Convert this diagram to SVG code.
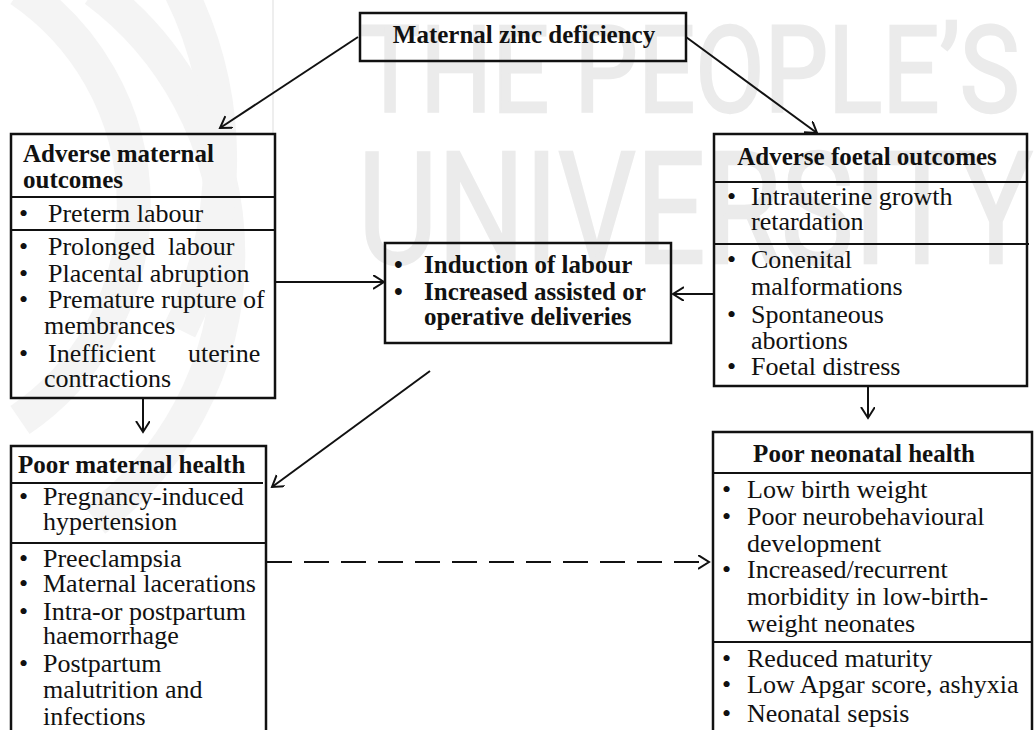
<svg xmlns="http://www.w3.org/2000/svg" width="1034" height="730" viewBox="0 0 1034 730">
<style>
.wm{fill:#ebebeb;stroke:#ebebeb;stroke-width:2.5;font-family:Roboto,'Liberation Sans',sans-serif;font-weight:400}
.arc{fill:none;stroke:#f4f4f4;stroke-width:34}
.box{fill:none;stroke:#111;stroke-width:2.5}
.div{stroke:#111;stroke-width:2}
.t{font-family:'Liberation Serif','Times New Roman',serif;font-size:26px;fill:#111}
.b{font-family:'Liberation Serif','Times New Roman',serif;font-size:25px;font-weight:bold;fill:#111}
.c{text-anchor:middle}
.con{stroke:#111;stroke-width:2;fill:none}
</style>
<defs>
<marker id="ah" markerUnits="userSpaceOnUse" markerWidth="14" markerHeight="16" refX="11" refY="7" orient="auto">
<path d="M0,0 L11,7 L0,14" fill="none" stroke="#111" stroke-width="2"/>
</marker>
</defs>
<rect width="1034" height="730" fill="#fff"/>
<g id="watermark">
<path class="arc" d="M20,-10 A260,260 0 0 1 20,420"/>
<path class="arc" d="M95,-10 A330,330 0 0 1 95,520"/>
<path class="arc" d="M180,-10 A380,380 0 0 1 180,330"/>
<line x1="273" y1="0" x2="273" y2="135" stroke="#e8e8e8" stroke-width="1.5"/>
<text class="wm" transform="translate(360,112) scale(0.84,1)" x="0" y="0" font-size="120">THE PEOPLE’S</text>
<text class="wm" transform="translate(358,263) scale(0.785,1)" x="0" y="0" font-size="156">UNIVERSITY</text>
</g>
<g id="connectors">
<line class="con" x1="358" y1="37" x2="220" y2="128" marker-end="url(#ah)"/>
<line class="con" x1="686" y1="37" x2="817" y2="133" marker-end="url(#ah)"/>
<line class="con" x1="275" y1="282" x2="384" y2="282" marker-end="url(#ah)"/>
<line class="con" x1="714" y1="294" x2="673" y2="294" marker-end="url(#ah)"/>
<line class="con" x1="143" y1="398" x2="143" y2="432" marker-end="url(#ah)"/>
<line class="con" x1="868" y1="386" x2="868" y2="418" marker-end="url(#ah)"/>
<line class="con" x1="430" y1="371" x2="272" y2="487" marker-end="url(#ah)"/>
<line class="con" x1="267" y1="562" x2="709" y2="562" stroke-dasharray="25 12" marker-end="url(#ah)"/>
</g>
<g id="zinc">
<rect class="box" x="360" y="13" width="326" height="48" stroke-width="3"/>
<text class="b c" x="524" y="43">Maternal zinc deficiency</text>
</g>
<g id="maternal-outcomes">
<rect class="box" x="11" y="134" width="264" height="264"/>
<line class="div" x1="11" y1="197" x2="275" y2="197"/>
<line class="div" x1="11" y1="230" x2="275" y2="230"/>
<text class="b" x="23" y="162">Adverse maternal</text>
<text class="b" x="23" y="188">outcomes</text>
<text class="t" x="19" y="222">•</text><text class="t" x="48" y="222">Preterm labour</text>
<text class="t" x="19" y="255">•</text><text class="t" x="48" y="255" xml:space="preserve">Prolonged  labour</text>
<text class="t" x="19" y="282">•</text><text class="t" x="48" y="282">Placental abruption</text>
<text class="t" x="19" y="308">•</text><text class="t" x="48" y="308">Premature rupture of</text>
<text class="t" x="44" y="334">membrances</text>
<text class="t" x="19" y="362">•</text><text class="t" x="48" y="362">Inefficient<tspan x="188">uterine</tspan></text>
<text class="t" x="44" y="387">contractions</text>
</g>
<g id="labour">
<rect class="box" x="385" y="243" width="286" height="100"/>
<text class="b" x="394" y="273">•</text><text class="b" x="424" y="273">Induction of labour</text>
<text class="b" x="394" y="300">•</text><text class="b" x="424" y="300">Increased assisted or</text>
<text class="b" x="424" y="325">operative deliveries</text>
</g>
<g id="foetal-outcomes">
<rect class="box" x="714" y="134" width="313" height="252"/>
<line class="div" x1="714" y1="182" x2="1027" y2="182"/>
<line class="div" x1="714" y1="244" x2="1029" y2="244"/>
<text class="b c" x="867" y="165">Adverse foetal outcomes</text>
<text class="t" x="727" y="205">•</text><text class="t" x="751" y="205">Intrauterine growth</text>
<text class="t" x="751" y="230">retardation</text>
<text class="t" x="727" y="268">•</text><text class="t" x="751" y="268">Conenital</text>
<text class="t" x="751" y="295">malformations</text>
<text class="t" x="727" y="323">•</text><text class="t" x="751" y="323">Spontaneous</text>
<text class="t" x="751" y="349">abortions</text>
<text class="t" x="727" y="375">•</text><text class="t" x="751" y="375">Foetal distress</text>
</g>
<g id="maternal-health">
<rect class="box" x="11" y="446" width="255" height="310"/>
<line class="div" x1="11" y1="483" x2="263" y2="483"/>
<line class="div" x1="11" y1="543" x2="266" y2="543"/>
<text class="b" x="18" y="473">Poor maternal health</text>
<text class="t" x="19" y="505">•</text><text class="t" x="43" y="505">Pregnancy-induced</text>
<text class="t" x="43" y="530">hypertension</text>
<text class="t" x="19" y="567">•</text><text class="t" x="43" y="567">Preeclampsia</text>
<text class="t" x="19" y="592">•</text><text class="t" x="43" y="592">Maternal lacerations</text>
<text class="t" x="19" y="620">•</text><text class="t" x="43" y="620">Intra-or postpartum</text>
<text class="t" x="43" y="644">haemorrhage</text>
<text class="t" x="19" y="672">•</text><text class="t" x="43" y="672">Postpartum</text>
<text class="t" x="43" y="698">malutrition and</text>
<text class="t" x="43" y="725">infections</text>
</g>
<g id="neonatal-health">
<rect class="box" x="713" y="432" width="319" height="320"/>
<line class="div" x1="713" y1="473" x2="1032" y2="473"/>
<line class="div" x1="713" y1="642" x2="1032" y2="642"/>
<text class="b c" x="864" y="462">Poor neonatal health</text>
<text class="t" x="722" y="498">•</text><text class="t" x="747" y="498">Low birth weight</text>
<text class="t" x="722" y="525">•</text><text class="t" x="747" y="525">Poor neurobehavioural</text>
<text class="t" x="747" y="552">development</text>
<text class="t" x="722" y="578">•</text><text class="t" x="747" y="578">Increased/recurrent</text>
<text class="t" x="747" y="605">morbidity in low-birth-</text>
<text class="t" x="747" y="632">weight neonates</text>
<text class="t" x="722" y="667">•</text><text class="t" x="747" y="667">Reduced maturity</text>
<text class="t" x="722" y="693">•</text><text class="t" x="747" y="693">Low Apgar score, ashyxia</text>
<text class="t" x="722" y="722">•</text><text class="t" x="747" y="722">Neonatal sepsis</text>
</g>
</svg>
